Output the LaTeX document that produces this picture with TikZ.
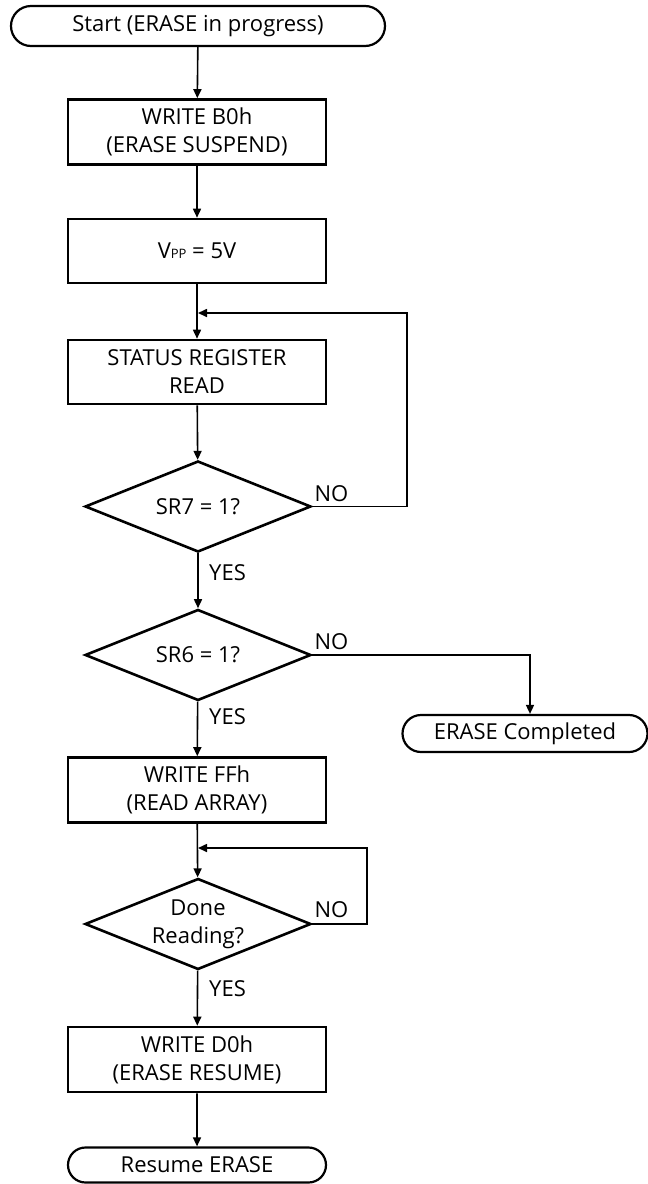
\documentclass[tikz,border=0pt]{standalone}
\usepackage{fontspec}
\setmainfont{Open Sans}
\usetikzlibrary{shapes.geometric,shapes.misc,arrows.meta}

\tikzset{
  procBox/.style={draw, line width=2.6pt, minimum width=258pt, minimum height=65pt, align=center, inner sep=0pt},
  termBox/.style={draw, rounded rectangle, line width=2.2pt, minimum height=38pt, inner sep=0pt},
  testBox/.style={draw, diamond, aspect=2.5, inner sep=-6pt, line width=2.6pt, minimum width=226pt, minimum height=91pt, align=center},
  flow/.style={line width=1.6pt, -{Triangle[length=9pt,width=8pt]}},
  answer/.style={inner sep=0pt}
}

\begin{document}
\begin{tikzpicture}[x=1pt, y=-1pt, font=\fontsize{22}{28}\selectfont]
\useasboundingbox (0,0) rectangle (648,1184);

\node[termBox, minimum width=374pt, minimum height=40pt] (start) at (198,26) {Start (ERASE in progress)};
\node[procBox] (writeB0) at (197,132) {WRITE B0h\\(ERASE SUSPEND)};
\node[procBox, minimum height=64pt] (setVpp) at (197,251) {V{\fontsize{13}{13}\selectfont PP} = 5V};
\node[procBox, minimum height=64pt] (readSR) at (197,372) {STATUS REGISTER\\READ};
\node[testBox] (testSR7) at (198,506.5) {SR7 = 1?};
\node[testBox] (testSR6) at (198,655) {SR6 = 1?};
\node[termBox, minimum width=245pt, minimum height=37pt] (eraseDone) at (525,733.5) {ERASE Completed};
\node[procBox] (writeFF) at (197,790) {WRITE FFh\\(READ ARRAY)};
\node[testBox] (testDone) at (198,924) {Done\\Reading?};
\node[procBox] (writeD0) at (197,1059.5) {WRITE D0h\\(ERASE RESUME)};
\node[termBox, minimum width=258pt, minimum height=35pt] (resume) at (197,1165) {Resume ERASE};

\coordinate (joinSR) at (198,313);
\coordinate (loopSR) at (407,313);
\coordinate (dropSR6) at (530,655);
\coordinate (joinDone) at (198,848);
\coordinate (loopDone) at (367,848);

\draw[flow] (start) -- (writeB0);
\draw[flow] (writeB0) -- (setVpp);
\draw[flow] (setVpp) -- (readSR);
\draw[flow] (readSR) -- (testSR7);
\draw[flow] (testSR7) -- (testSR6);
\draw[flow] (testSR6) -- (writeFF);
\draw[flow] (writeFF) -- (testDone);
\draw[flow] (testDone) -- (writeD0);
\draw[flow] (writeD0) -- (resume);
\draw[flow] (testSR7.east) -| (loopSR) -- (joinSR);
\draw[flow] (testSR6.east) -- (dropSR6) -- (dropSR6 |- eraseDone.north);
\draw[flow] (testDone.east) -| (loopDone) -- (joinDone);

\node[answer, anchor=south west] (noSR7) at ([xshift=2pt,yshift=5pt]testSR7.east) {NO};
\node[answer, anchor=south west] (noSR6) at ([xshift=2pt,yshift=5pt]testSR6.east) {NO};
\node[answer, anchor=south west] (noDone) at ([xshift=2pt,yshift=6pt]testDone.east) {NO};
\node[answer, anchor=west] (yesSR7) at (209,572.5) {YES};
\node[answer, anchor=west] (yesSR6) at (209,717) {YES};
\node[answer, anchor=west] (yesDone) at (209,989) {YES};
\end{tikzpicture}
\end{document}
